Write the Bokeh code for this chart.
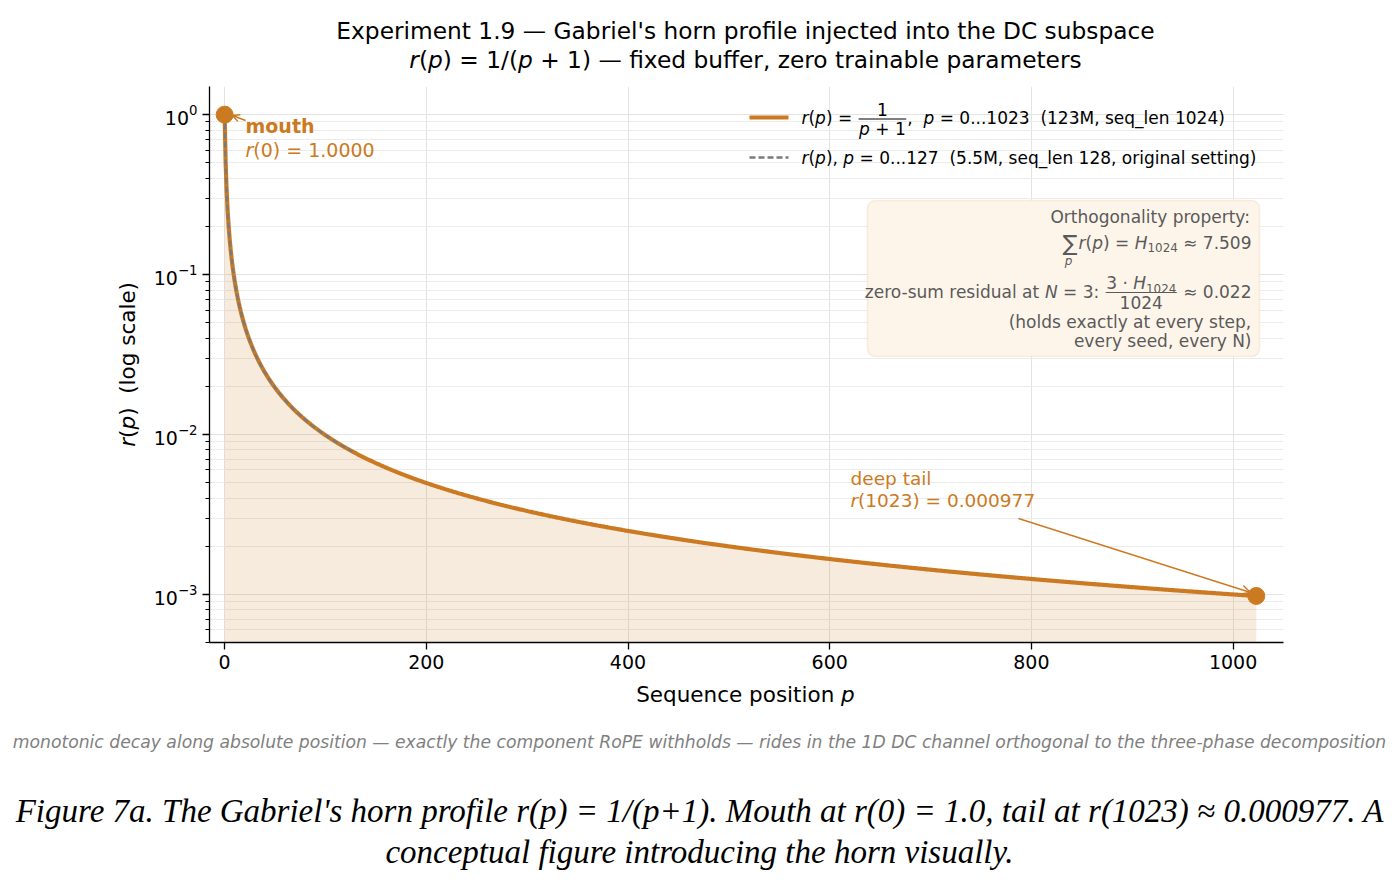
import re
import numpy as np
from bokeh.plotting import figure
from bokeh.layouts import column, row
from bokeh.models import Range1d, FixedTicker, Label, Arrow, OpenHead, BoxAnnotation, Div
from bokeh.embed import file_html
from bokeh.resources import INLINE

# ---- data -------------------------------------------------------------
SEQ_LEN_LONG = 1024    # 123M model
SEQ_LEN_SHORT = 128    # 5.5M model, original setting
p_long = np.arange(SEQ_LEN_LONG)
r_long = 1.0 / (p_long + 1.0)
p_short = np.arange(SEQ_LEN_SHORT)
r_short = 1.0 / (p_short + 1.0)

mouth_p, mouth_r = 0, 1.0000
tail_p, tail_r = 1023, 0.000977

x_ticks = [0, 200, 400, 600, 800, 1000]
y_ticks = [1e-3, 1e-2, 1e-1, 1e0]
y_minor = [m * 10.0 ** e for e in (-4, -3, -2, -1, 0) for m in range(2, 10)]

# ---- page geometry ----------------------------------------------------
W, H = 1399, 886
FL, FR, FT, FB = 208, 1283, 86, 642      # plot frame on the page
TITLE_H = 80
YLAB_W = 150
FIG_H = 600                              # rows 80..680
XLAB_H = 30
NOTE_H = 64
Y_FLOOR = 5e-4

ORANGE = "#CC7A22"
DASH_GRAY = "#7a7a7a"
BOX_TEXT = "#5a5a5a"
FONT = "DejaVu Sans"

# DejaVu Sans advance widths (units per em = 2048), used to lay out mixed-style runs
ADV = {' ': 651, "'": 563, '(': 799, ')': 799, '+': 1716, ',': 651, '-': 739,
       '.': 651, '/': 690, ':': 690, '=': 1716, '_': 1024, '—': 2048, '≈': 1716,
       '·': 651, '∑': 1500}
for ch in '0123456789':
    ADV[ch] = 1303
ADV.update(dict(zip('ABCDEFGHIJKLMNOPQRSTUVWXYZ',
                    [1401, 1405, 1430, 1577, 1294, 1178, 1587, 1540, 604, 604, 1343, 1141, 1767,
                     1532, 1612, 1235, 1612, 1423, 1300, 1251, 1499, 1401, 2025, 1403, 1251, 1403])))
ADV.update(dict(zip('abcdefghijklmnopqrstuvwxyz',
                    [1255, 1300, 1126, 1300, 1260, 721, 1300, 1298, 569, 569, 1186, 569, 1995,
                     1298, 1253, 1300, 1300, 842, 1067, 803, 1298, 1212, 1675, 1212, 1212, 1075])))


def tw(s, size):
    return sum(ADV.get(ch, 1200) for ch in s) / 2048.0 * size


def sx(px):
    return px - FL


def sy(py):
    return FB - py


p = figure(width=W - YLAB_W, height=FIG_H, x_range=Range1d(-15, 1050),
           y_range=Range1d(Y_FLOOR, 1.5), y_axis_type="log", output_backend="svg",
           toolbar_location=None, title=None,
           min_border_left=FL - YLAB_W, min_border_right=W - FR,
           min_border_top=FT - TITLE_H, min_border_bottom=TITLE_H + FIG_H - FB,
           margin=0)
p.outline_line_color = None
p.background_fill_color = "white"
p.border_fill_color = "white"

for ax in (p.xaxis[0], p.yaxis[0]):
    ax.axis_line_color = "black"
    ax.axis_line_width = 1.3
    ax.major_tick_line_color = "black"
    ax.major_tick_line_width = 1.3
    ax.major_tick_out = 7
    ax.major_tick_in = 0
    ax.minor_tick_line_color = "black"
    ax.minor_tick_line_width = 1.0
    ax.minor_tick_out = 4
    ax.minor_tick_in = 0
    ax.major_label_text_font = FONT
    ax.major_label_text_font_size = "19px"
    ax.major_label_text_color = "black"
    ax.major_label_standoff = 5

p.xaxis.ticker = FixedTicker(ticks=x_ticks)
p.xaxis.minor_tick_line_color = None
p.yaxis.ticker = FixedTicker(ticks=y_ticks, minor_ticks=y_minor)

p.xgrid.ticker = FixedTicker(ticks=x_ticks)
p.ygrid.ticker = FixedTicker(ticks=y_ticks, minor_ticks=y_minor)
p.xgrid.grid_line_color = "#e3e3e3"
p.ygrid.grid_line_color = "#e3e3e3"
p.ygrid.minor_grid_line_color = "#ebebeb"

# ---- glyphs -----------------------------------------------------------
p.varea(x=p_long, y1=np.full(len(p_long), Y_FLOOR), y2=r_long,
        fill_color=ORANGE, fill_alpha=0.15)
p.line(p_long, r_long, line_color=ORANGE, line_width=4.2)
p.line(p_short, r_short, line_color=DASH_GRAY, line_width=2.3, line_dash="6 3")
p.scatter([mouth_p, tail_p], [mouth_r, tail_r], size=17,
          fill_color=ORANGE, line_color=ORANGE)


# ---- in-frame text helpers (y given as the visual centre line) ---------
STYLE = {"n": "normal", "i": "italic", "b": "bold", "sub": "normal"}


def label(text, px, py, size, color="black", style="normal", align="left", font=FONT):
    p.add_layout(Label(x=sx(px), y=sy(py), x_units="screen", y_units="screen",
                       text=text, text_font=font, text_font_size=f"{size:.1f}px",
                       text_font_style=style, text_color=color, text_align=align,
                       text_baseline="alphabetic"))


def runs_width(runs, size):
    return sum(tw(s, size * 0.7 if st == "sub" else size) for st, s in runs)


def put_runs(runs, x, yc, size, color="black", align="left"):
    total = runs_width(runs, size)
    cur = {"left": x, "right": x - total, "center": x - total / 2}[align]
    for st, s in runs:
        fs = size * 0.7 if st == "sub" else size
        dy = 0.3 * size if st == "sub" else 0.0
        for m in re.finditer(r"\S+(?: \S+)*", s):
            label(m.group(0), cur + tw(s[:m.start()], fs), yc + dy, fs, color, STYLE[st])
        cur += tw(s, fs)
    return total


def hline(x0, x1, y, color, width, dash="solid"):
    p.add_layout(Arrow(end=None, x_start=sx(x0), y_start=sy(y), x_end=sx(x1), y_end=sy(y),
                       start_units="screen", end_units="screen",
                       line_color=color, line_width=width, line_dash=dash))


def frac_width(num, den, size):
    return max(runs_width(num, size), runs_width(den, size)) + 3


def put_frac(num, den, left, bar_y, size, color):
    wn, wd = runs_width(num, size), runs_width(den, size)
    fw = frac_width(num, den, size)
    cx = left + fw / 2
    put_runs(num, cx - wn / 2, bar_y - 9.5, size, color)
    put_runs(den, cx - wd / 2, bar_y + 9.5, size, color)
    hline(left + 1, left + fw - 1, bar_y, color, 1.0)
    return fw


# ---- legend -----------------------------------------------------------
hline(748, 787, 117, ORANGE, 4.2)
hline(748, 787, 157, DASH_GRAY, 2.3, "6 3")
w1 = put_runs([("i", "r"), ("n", "("), ("i", "p"), ("n", ") = ")], 800, 117, 17)
fw = put_frac([("n", "1")], [("i", "p"), ("n", " + 1")], 800 + w1, 118.5, 17, "black")
put_runs([("n", ",  "), ("i", "p"), ("n", " = 0...1023  (123M, seq_len 1024)")],
         800 + w1 + fw, 117, 17)
put_runs([("i", "r"), ("n", "("), ("i", "p"), ("n", "), "), ("i", "p"),
          ("n", " = 0...127  (5.5M, seq_len 128, original setting)")], 800, 157, 17)

# ---- orthogonality box ------------------------------------------------
p.add_layout(BoxAnnotation(left=sx(866), right=sx(1258), top=sy(200), bottom=sy(356),
                           left_units="screen", right_units="screen",
                           top_units="screen", bottom_units="screen",
                           fill_color="#FDF5EA", fill_alpha=1.0,
                           line_color="#EBCB9E", line_width=1.6, border_radius=8))
RX = 1250
put_runs([("n", "Orthogonality property:")], RX, 216, 17, BOX_TEXT, align="right")
w2 = put_runs([("i", "r"), ("n", "("), ("i", "p"), ("n", ") = "), ("i", "H"),
               ("sub", "1024"), ("n", " ≈ 7.509")], RX, 242, 17, BOX_TEXT, align="right")
label("∑", RX - w2 - 1, 243, 22, BOX_TEXT, align="right")
label("p", RX - w2 - 10, 260, 12, BOX_TEXT, style="italic", align="center")
w3 = put_runs([("n", " ≈ 0.022")], RX, 291, 17, BOX_TEXT, align="right")
num = [("n", "3 · "), ("i", "H"), ("sub", "1024")]
den = [("n", "1024")]
fw3 = frac_width(num, den, 17)
put_frac(num, den, RX - w3 - fw3, 292, 17, BOX_TEXT)
put_runs([("n", "zero-sum residual at "), ("i", "N"), ("n", " = 3: ")],
         RX - w3 - fw3, 291, 17, BOX_TEXT, align="right")
put_runs([("n", "(holds exactly at every step,")], RX, 321, 17, BOX_TEXT, align="right")
put_runs([("n", "every seed, every N)")], RX, 340, 17, BOX_TEXT, align="right")

# ---- point annotations ------------------------------------------------
p.add_layout(Arrow(end=OpenHead(size=7, line_color=ORANGE, line_width=1.4),
                   x_start=sx(244), y_start=sy(120), x_end=sx(231), y_end=sy(115),
                   start_units="screen", end_units="screen",
                   line_color=ORANGE, line_width=1.4))
label("mouth", 244, 125, 19, ORANGE, style="bold")
put_runs([("i", "r"), ("n", f"(0) = {mouth_r:.4f}")], 244, 149, 19, ORANGE)

p.add_layout(Arrow(end=OpenHead(size=9, line_color=ORANGE, line_width=1.4),
                   x_start=sx(1017), y_start=sy(518), x_end=sx(1249), y_end=sy(592),
                   start_units="screen", end_units="screen",
                   line_color=ORANGE, line_width=1.4))
label("deep tail", 849, 478, 18.5, ORANGE)
put_runs([("i", "r"), ("n", f"({tail_p}) = {tail_r:.6f}")], 849, 500, 18.5, ORANGE)

# ---- text around the plot --------------------------------------------
SANS = "font-family:'DejaVu Sans',sans-serif;"
FW = FR - FL
title_div = Div(
    text=(f'<div style="width:{FW}px;{SANS}font-size:23.3px;line-height:29px;'
          'text-align:center;color:#000;padding-top:16px;white-space:nowrap;">'
          "Experiment 1.9 — Gabriel's horn profile injected into the DC subspace<br>"
          "<i>r</i>(<i>p</i>) = 1/(<i>p</i> + 1) — fixed buffer, zero trainable parameters"
          "</div>"),
    width=FW, height=TITLE_H, margin=(0, 0, 0, FL))

ylab_div = Div(
    text=(f'<div style="width:{YLAB_W}px;height:{FIG_H}px;display:flex;align-items:center;'
          'justify-content:center;box-sizing:border-box;padding-left:106px;'
          f'padding-bottom:{2 * (TITLE_H + FIG_H / 2 - (FT + FB) / 2):.0f}px;">'
          f'<div style="transform:rotate(-90deg);white-space:nowrap;{SANS}'
          'font-size:21.5px;color:#000;"><i>r</i>(<i>p</i>)&nbsp;&nbsp;(log scale)</div></div>'),
    width=YLAB_W, height=FIG_H, margin=0)

xlab_div = Div(
    text=(f'<div style="width:{FW}px;{SANS}font-size:21.5px;line-height:{XLAB_H}px;'
          'text-align:center;color:#000;white-space:nowrap;">'
          'Sequence position <i>p</i></div>'),
    width=FW, height=XLAB_H, margin=(0, 0, 0, FL))

note_div = Div(
    text=(f'<div style="width:{W}px;{SANS}font-size:17.2px;font-style:italic;'
          f'line-height:{NOTE_H}px;text-align:center;color:#808080;white-space:nowrap;">'
          'monotonic decay along absolute position — exactly the component RoPE withholds — '
          'rides in the 1D DC channel orthogonal to the three-phase decomposition</div>'),
    width=W, height=NOTE_H, margin=0)

caption_div = Div(
    text=(f'<div style="width:{W}px;font-family:\'Liberation Serif\',serif;font-size:33px;'
          'font-style:italic;line-height:41px;padding-top:17px;text-align:center;color:#000;'
          'white-space:nowrap;">'
          "Figure 7a. The Gabriel's horn profile r(p) = 1/(p+1). Mouth at r(0) = 1.0, "
          "tail at r(1023) ≈ 0.000977. A<br>"
          "conceptual figure introducing the horn visually.</div>"),
    width=W, height=H - TITLE_H - FIG_H - XLAB_H - NOTE_H, margin=0)

page = column(title_div, row(ylab_div, p, spacing=0), xlab_div, note_div, caption_div,
              spacing=0)

open("out.html", "w").write(file_html(page, INLINE))
